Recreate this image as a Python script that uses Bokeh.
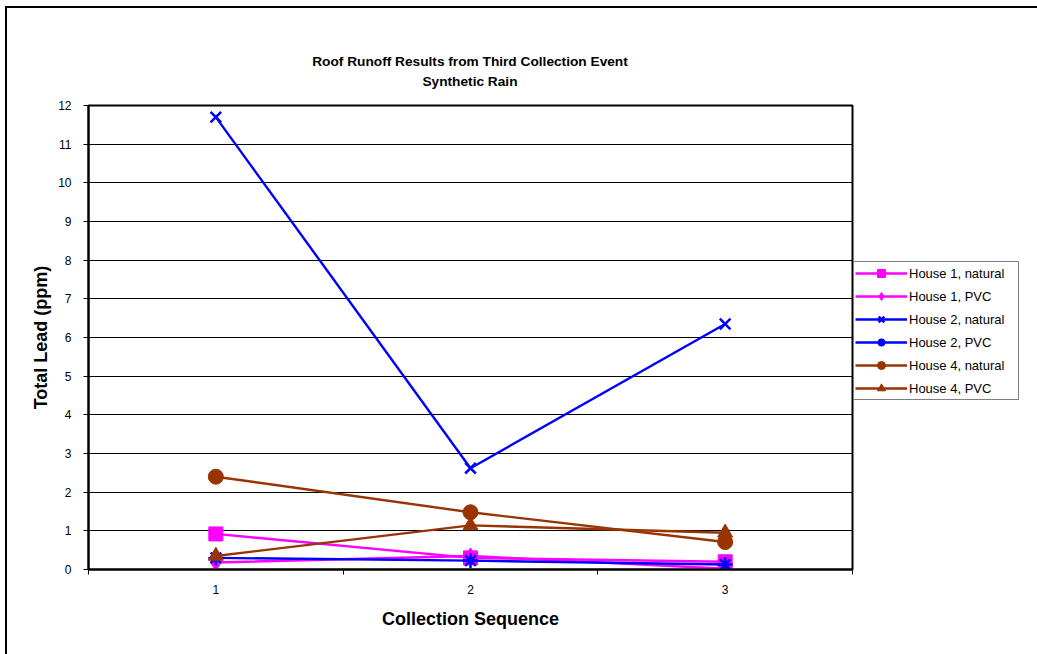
from bokeh.plotting import figure
from bokeh.layouts import column
from bokeh.models import (FixedTicker, Legend, LegendItem, Range1d, Div)
from bokeh.embed import file_html
from bokeh.resources import INLINE

# ---- data ----
sequence = [1, 2, 3]
x_tick_labels = {1: "1", 2: "2", 3: "3"}
house1_natural = [0.92, 0.30, 0.20]
house1_pvc = [0.18, 0.35, 0.02]
house2_natural = [11.70, 2.62, 6.35]
house2_pvc = [0.30, 0.23, 0.13]
house4_natural = [2.40, 1.48, 0.71]
house4_pvc = [0.35, 1.14, 0.95]
title_lines = ["Roof Runoff Results from Third Collection Event", "Synthetic Rain"]

series = [
    ("House 1, natural", house1_natural, "#FF00FF", "square", 14),
    ("House 1, PVC", house1_pvc, "#FF00FF", "diamond", 16),
    ("House 2, natural", house2_natural, "#0000FF", "x", 15),
    ("House 2, PVC", house2_pvc, "#0000FF", "asterisk", 15),
    ("House 4, natural", house4_natural, "#993300", "circle", 15),
    ("House 4, PVC", house4_pvc, "#993300", "triangle", 15),
]

FONT = "Liberation Sans"

title_div = Div(
    text=('<div style="width:926px;padding-top:44px;text-align:center;'
          'font-family:\'Liberation Sans\';font-weight:bold;font-size:13.7px;'
          'line-height:20px;color:black;">'
          + "<br>".join(title_lines) + "</div>"),
    width=926, height=90, margin=0, styles={"width": "926px"})

p = figure(frame_width=764, frame_height=464, output_backend="svg",
           toolbar_location=None,
           x_range=Range1d(0.5, 3.5), y_range=Range1d(0, 12),
           min_border_left=81, min_border_top=7, min_border_right=40,
           min_border_bottom=85, background_fill_color="white",
           border_fill_color="white", margin=0)

p.outline_line_color = "black"
p.outline_line_width = 2

# axes
p.xaxis.ticker = FixedTicker(ticks=sequence, minor_ticks=[0.5, 1.5, 2.5, 3.5])
p.xaxis.major_label_overrides = x_tick_labels
p.xaxis.major_tick_out = 0
p.xaxis.major_tick_in = 0
p.xaxis.minor_tick_out = 5
p.xaxis.minor_tick_in = 0
p.xaxis.minor_tick_line_color = "black"
p.xaxis.major_label_standoff = 10
p.xaxis.axis_label = "Collection Sequence"
p.xaxis.axis_label_standoff = 12

p.yaxis.ticker = FixedTicker(ticks=list(range(0, 13)))
p.yaxis.major_tick_out = 5
p.yaxis.major_tick_in = 0
p.yaxis.minor_tick_out = 0
p.yaxis.minor_tick_in = 0
p.yaxis.major_label_standoff = 12
p.yaxis.axis_label = "Total Lead (ppm)"
p.yaxis.axis_label_standoff = 4

for ax in (p.xaxis, p.yaxis):
    ax.axis_line_color = "black"
    ax.axis_line_width = 2
    ax.major_tick_line_color = "black"
    ax.major_label_text_font = FONT
    ax.major_label_text_font_size = "12px"
    ax.major_label_text_color = "black"
    ax.axis_label_text_font = FONT
    ax.axis_label_text_font_size = "18px"
    ax.axis_label_text_font_style = "bold"
    ax.axis_label_text_color = "black"

p.xgrid.grid_line_color = None
p.ygrid.grid_line_color = "black"
p.ygrid.grid_line_width = 1

items = []
for name, vals, color, marker, size in series:
    r_line = p.line(sequence, vals, line_color=color, line_width=2.4)
    if marker in ("x", "asterisk"):
        r_pt = p.scatter(sequence, vals, marker=marker, size=size, line_color=color,
                         line_width=2.5, fill_color=color)
    else:
        r_pt = p.scatter(sequence, vals, marker=marker, size=size, line_color=color,
                         fill_color=color)
    items.append(LegendItem(label=name, renderers=[r_line, r_pt]))

legend = Legend(items=items, location=(1, 169), border_line_color="black",
                border_line_width=1, background_fill_color="white",
                label_text_font=FONT, label_text_font_size="13px",
                label_text_color="black",
                glyph_width=52, glyph_height=20, label_height=20, label_width=108,
                label_standoff=2, spacing=3, padding=1, margin=0)
p.add_layout(legend, "right")

layout = column(title_div, p, spacing=0)
layout.styles = {"margin-left": "5px", "margin-top": "6px",
                 "border-left": "2px solid black", "border-top": "2px solid black",
                 "background-color": "white"}

open("out.html", "w").write(file_html(layout, INLINE))
